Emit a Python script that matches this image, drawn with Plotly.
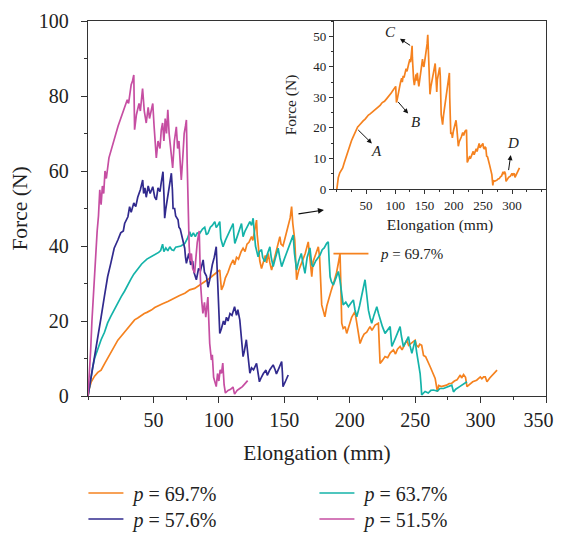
import plotly.graph_objects as go

FONT = "Liberation Serif"

# ---------------- data ----------------
orange_x = [0, 1, 2.5, 5, 7.5, 10, 12.5, 15, 17.5, 20, 22.8, 25, 27.5, 30, 32.5, 35.6, 38, 40, 43, 45, 48.4, 51, 54, 57, 61, 64, 67, 70, 74, 77.7, 81.5, 85, 88, 90, 93, 95, 97, 99, 100.7, 101.3, 102, 103.5, 105, 107, 109, 110.9, 112, 113.5, 115, 117, 118.5, 120, 121.5, 123, 125, 126, 127.5, 128.8, 129.3, 130, 131.3, 132.6, 134, 135.5, 136.5, 137.7, 139, 140.3, 142, 143.5, 145, 146.6, 147.5, 149, 150.5, 152, 153, 154.5, 155.6, 156.5, 158, 158.7, 159.4, 161, 163, 164.5, 166, 168.3, 169.5, 171, 172, 174, 176, 177, 177.8, 178.6, 180, 181, 182.5, 184, 186, 188, 190, 191.3, 192.6, 193.2, 193.9, 195, 196.5, 197.7, 199.5, 201.5, 204, 205.3, 206.6, 207.9, 209.5, 211, 213, 215.5, 217, 219.4, 221.9, 222.5, 223.2, 225, 227, 229, 231, 233.4, 235, 236.5, 238.5, 240, 241.5, 243.6, 245, 246.5, 248, 250, 251, 252.5, 253.5, 255, 256.4, 258, 261.5, 265.3, 267, 268, 270, 272, 274, 276, 278, 280, 282, 284.5, 285.5, 287, 288.5, 289.6, 291, 294, 297, 299.8, 301, 302.3, 303.6, 304.9, 307, 310, 312.6]
orange_y = [0, 2, 3.8, 5.3, 6.3, 6.9, 8.5, 10, 11.6, 13.2, 14.9, 15.8, 16.9, 18, 19.2, 20.3, 20.8, 21.3, 22, 22.3, 22.9, 23.6, 24.2, 24.6, 25.2, 25.8, 26.2, 26.8, 27.4, 28.3, 28.7, 29.5, 30.1, 30.6, 31.4, 32, 32.6, 33, 33.6, 31, 28.3, 29.5, 31.5, 33, 35, 36.3, 35, 37, 36.5, 38.5, 39.4, 38.5, 40.5, 41, 42.5, 41.5, 44, 46.9, 43, 39.8, 36, 34, 36, 37.5, 35.5, 38, 35.5, 33.6, 36, 38, 40, 42.5, 40.5, 40, 42, 44, 45.2, 47.5, 50.5, 46, 41.6, 36, 31, 33.5, 35.4, 37, 38, 41.1, 37, 31.8, 35.8, 38, 39.8, 37, 30, 24.3, 22.5, 21.1, 24, 26, 28.3, 30.5, 33, 35.4, 38, 30, 19.4, 18, 18.5, 16.7, 19, 21, 22.5, 20, 17.6, 14, 15.5, 16.5, 17, 18.5, 17.5, 18.9, 19.4, 14, 8.7, 9.5, 10.5, 10.2, 11.5, 12.3, 11.2, 12.5, 13.2, 12.3, 13.5, 14.9, 13.5, 14, 14.5, 14.9, 13.5, 13.1, 13.8, 13.5, 10.8, 10.5, 7.8, 4.7, 1.2, 2.8, 2.5, 2.6, 2.9, 3.3, 3.4, 4, 4.3, 5.6, 4.8, 5.7, 5, 2.5, 3, 3.8, 4.2, 5.1, 4.6, 5.1, 5.1, 3.8, 4.8, 5.8, 6.9]

teal_x = [0, 1, 2, 3.5, 5, 7.5, 10, 12.6, 15, 17.5, 20, 22.5, 25.4, 28, 30, 33, 35, 38, 41, 45, 48.4, 50, 52, 54, 55.5, 57, 58, 59.5, 61, 62.5, 64, 65.5, 67, 69, 71, 74, 76, 77.7, 79, 80.5, 82, 83.5, 85.4, 87.5, 89.2, 90.5, 91.7, 93.5, 95, 96.9, 98, 99.5, 100.7, 101.5, 103.2, 105, 107, 109, 110.9, 111.5, 112.2, 114, 115.5, 117.3, 118, 118.5, 120, 122, 123.7, 125, 126.2, 127, 128, 130, 131, 132.6, 133.5, 135, 137, 139, 140, 141.5, 143, 145.3, 146.5, 148, 150, 152, 154.3, 156.8, 157.8, 159.4, 161, 163, 164.5, 165.8, 167.5, 169.6, 171, 172, 174, 176, 177.3, 179, 180.5, 182.4, 183.6, 184.3, 185, 186, 187.5, 189.5, 191.3, 192.5, 193.6, 195, 197, 199, 201, 202.8, 204, 205.4, 207.5, 209.5, 211.7, 213, 214.3, 215.5, 216.8, 218.5, 220.7, 222, 223.2, 225, 227, 229, 230.9, 231.5, 232.2, 235, 238.5, 239.5, 241, 243, 244.9, 246, 247.5, 249, 250, 251, 252.5, 253.8, 254.5, 255, 257.6, 260, 262, 264, 267, 269, 271.7, 274, 276, 278, 279.3, 281, 284, 287, 289.6]
teal_y = [0, 2.5, 5, 7.5, 10, 12.8, 15, 17, 19.5, 21.3, 23, 24.8, 26.5, 28, 29.5, 31.3, 32.5, 34, 35.2, 36.5, 37.1, 37.5, 37.8, 38.3, 38.8, 40.5, 38.5, 39.5, 38.7, 39.8, 39, 38.8, 39.7, 39.8, 40, 40.7, 42, 43.8, 42.5, 43.5, 42.5, 43.5, 43.4, 44.5, 45, 43, 43.4, 45, 45.5, 46.5, 44.9, 45.7, 46.5, 42, 39.8, 41.5, 43, 44.5, 46, 43, 40.7, 42.5, 44, 46, 44, 42.5, 44, 45.5, 46.5, 45.5, 47.4, 44, 40, 37.1, 38.5, 39, 37, 35.8, 38, 39.8, 37, 34.5, 36.5, 39.4, 37, 34.5, 36.5, 38.5, 40.7, 42.9, 38, 33.6, 36, 38, 35, 32.7, 37, 39.5, 35, 34.5, 36, 37.1, 37.6, 39, 39.5, 40.7, 41.1, 36, 31.8, 30.5, 29.6, 31.5, 33.2, 31, 28.3, 24.3, 25, 23.8, 24.8, 25.6, 23, 21.1, 24, 27.5, 31, 27, 22.9, 21, 19.4, 21.5, 23.8, 22, 20.3, 18.5, 16.7, 17.6, 18.5, 16, 13.2, 15.5, 18.5, 16, 13.2, 14.5, 15.8, 13.5, 11.4, 13.5, 14.9, 12, 8.7, 6, 3, 0.3, 1.2, 0.8, 1.5, 1.6, 1.3, 2, 2, 2.3, 2.6, 2.9, 1.1, 1.8, 2.5, 3.2, 3.8]

navy_x = [0, 1, 2.5, 5, 7.5, 10, 12.5, 15, 17.5, 20, 22.8, 25, 27, 28, 30.5, 31.8, 33, 35, 36.5, 38, 40, 41.8, 42.5, 43.5, 44.5, 46, 47.5, 49.5, 51, 52.2, 53.5, 55, 56, 57.3, 58.1, 58.6, 59.5, 61, 62.5, 63.7, 64.5, 65, 66.2, 67, 68.8, 69.5, 70.5, 71.3, 72.5, 73.9, 74.5, 75.2, 77, 78.5, 80, 81, 82.8, 84.5, 86, 88, 89, 90.5, 91.7, 93, 95, 96.5, 98, 98.8, 99.4, 100.1, 100.7, 102, 103.5, 104.5, 105.8, 107, 108.5, 110, 112, 113.5, 114.5, 116, 117, 118.5, 119.5, 121, 122.5, 123.7, 125, 126.5, 128.8, 130, 131, 132.5, 134, 136, 137, 139, 141.5, 143, 144, 146, 148, 148.6, 149, 151, 153]
navy_y = [0, 2, 5, 10.5, 16, 21, 26.5, 31.8, 35.5, 39.4, 41.6, 43.5, 44, 46, 47.8, 50.5, 49, 51.5, 50.5, 53, 55, 57.6, 54, 55.5, 53, 56, 54, 55.8, 53, 52.3, 55.5, 54.5, 57, 59.8, 53, 47.4, 50, 53, 56, 59.4, 55, 50, 50, 48, 47, 45, 44.5, 43.4, 41, 39.4, 37, 35.4, 38, 35, 36, 33, 31, 34, 33.5, 36.3, 33, 32, 29, 31, 35, 37, 39.8, 33, 26.5, 20, 16.7, 18, 20, 19, 21, 20, 22, 21.5, 23.8, 21.5, 23, 20.3, 17, 10.5, 12, 15, 10, 6.1, 7.5, 7, 8.7, 6, 3.8, 5, 6, 6.9, 5.5, 7, 8.3, 7, 5.9, 7.5, 9.2, 6, 2.5, 4, 5.6]

magenta_x = [0, 1, 2, 3, 4, 5, 6, 7, 8, 9, 10, 11, 12, 13, 14, 16, 18, 20, 21.6, 23, 25, 28, 30, 31, 33, 34, 35, 35.6, 37, 39, 40, 41.7, 43, 44.5, 46, 47, 48, 49.5, 50.5, 52.2, 53.5, 55, 56, 57, 58, 59, 60, 61, 62, 63, 64.7, 66, 67.5, 68.5, 69.5, 70.5, 71.3, 72.5, 73.5, 74.5, 75.2, 75.8, 76.5, 77.3, 78, 79, 80, 81.5, 82.5, 83.5, 85, 85.5, 86, 87, 87.8, 89, 90, 91.6, 92.2, 93, 94.3, 95, 96, 98, 99, 100, 101, 102, 103, 104, 105, 107, 109, 110.8, 112, 114, 116, 118, 120, 122]
magenta_y = [0, 5, 12, 20, 27, 32, 38, 44, 48, 55, 51, 56, 54, 60, 58, 63.5, 66, 68, 70.5, 72, 74, 77, 79, 78, 83, 84, 85.6, 71, 75, 78, 76, 82, 76, 72.8, 77, 74, 76, 78, 72, 63.5, 68, 66, 71, 72.8, 68, 74, 70, 76.3, 70, 66, 60.8, 68, 71.8, 66, 68, 62, 57.6, 64, 70, 72, 73.6, 62, 50, 40, 36, 38, 34, 32.8, 37, 41, 44, 38, 30, 25, 22, 25, 21, 26.4, 20, 14, 9.6, 11, 5, 2.5, 6, 4, 7, 6, 8.8, 3, 0.8, 1.5, 1.8, 2.4, 0.5, 1.5, 2, 2.5, 3.3, 4.1]

series_names = ["<i>p</i> = 69.7%", "<i>p</i> = 63.7%", "<i>p</i> = 57.6%", "<i>p</i> = 51.5%"]
series_colors = ["#f5821f", "#14b3a9", "#312a8e", "#c64ea2"]
series_legend = ["legend", "legend", "legend3", "legend3"]   # two legend rows

x_ticks = [50, 100, 150, 200, 250, 300, 350]
x_tick_labels = ["50", "100", "150", "200", "250", "300", "350"]
y_ticks = [0, 20, 40, 60, 80, 100]
inset_x_ticks = [50, 100, 150, 200, 250, 300]
inset_y_ticks = [0, 10, 20, 30, 40, 50]

# inset point labels: (label, label x, label y, arrow head x, head y, tail x, tail y)
point_labels = [
    ("A", 68, 12.4, 60, 14.9, 34, 19.8),
    ("B", 134, 21.8, 122, 24.7, 102.6, 29),
    ("C", 91, 51.4, 108, 49.2, 128, 46.7),
    ("D", 302, 14.9, 297.6, 11.1, 293.6, 5.7),
]

# the last x label sits at the page edge: pad it on the right so it stays inside the view
x_tick_text = x_tick_labels[:-1] + [x_tick_labels[-1] + "&nbsp;&nbsp;&nbsp;"]

# ---------------- figure ----------------
fig = go.Figure()
data = [(orange_x, orange_y), (teal_x, teal_y), (navy_x, navy_y), (magenta_x, magenta_y)]
for (xs, ys), name, col, lg in zip(data, series_names, series_colors, series_legend):
    fig.add_trace(go.Scatter(x=xs, y=ys, mode="lines", name="&nbsp;" + name,
                             line=dict(color=col, width=1.7), xaxis="x", yaxis="y", legend=lg))

# inset (same orange series)
fig.add_trace(go.Scatter(x=orange_x, y=orange_y, mode="lines", name="&nbsp;&nbsp;" + series_names[0],
                         line=dict(color=series_colors[0], width=1.7),
                         xaxis="x2", yaxis="y2", legend="legend2"))

axis_common = dict(showline=True, linecolor="#333", linewidth=1.3, mirror=True,
                   ticks="outside", tickcolor="#333", showgrid=False, zeroline=False,
                   automargin=False, ticklabeloverflow="allow")

legend_row = dict(orientation="h", x=-0.01, xanchor="left", yanchor="middle",
                  entrywidth=181, entrywidthmode="pixels", itemwidth=35,
                  font=dict(size=20, family=FONT), bgcolor="rgba(0,0,0,0)")

# page body adds an 8px offset, so the figure is sized to keep the plot box in place
fig.update_layout(
    width=555, height=525,
    margin=dict(l=80, r=17, t=13, b=137, autoexpand=False),
    paper_bgcolor="white", plot_bgcolor="white",
    font=dict(family=FONT, color="#222"),
    xaxis=dict(**axis_common, range=[0, 350], tickvals=x_ticks, ticktext=x_tick_text,
               ticklen=6, tickwidth=1.3,
               tickfont=dict(size=20, family=FONT),
               minor=dict(dtick=25, tick0=0, ticklen=3, ticks="outside", tickcolor="#333"),
               title=dict(text="Elongation (mm)", font=dict(size=21.5, family=FONT), standoff=14)),
    yaxis=dict(**axis_common, range=[0, 100], tickvals=y_ticks, ticklen=6, tickwidth=1.3,
               tickfont=dict(size=20, family=FONT), ticklabelstandoff=8,
               minor=dict(dtick=10, tick0=0, ticklen=3, ticks="outside", tickcolor="#333"),
               title=dict(text="Force (N)", font=dict(size=21.5, family=FONT), standoff=5)),
    xaxis2=dict(**axis_common, domain=[0.537, 1.0], anchor="y2", range=[-5, 358],
                tickvals=inset_x_ticks, ticklen=4, tickwidth=1,
                tickfont=dict(size=13, family=FONT),
                minor=dict(dtick=25, tick0=0, ticklen=2, ticks="outside", tickcolor="#333"),
                title=dict(text="Elongation (mm)", font=dict(size=15.5, family=FONT), standoff=7)),
    yaxis2=dict(**axis_common, domain=[0.552, 1.0], anchor="x2", range=[0, 55],
                tickvals=inset_y_ticks, ticklen=4, tickwidth=1,
                tickfont=dict(size=13, family=FONT),
                minor=dict(dtick=5, tick0=0, ticklen=2, ticks="outside", tickcolor="#333"),
                title=dict(text="Force (N)", font=dict(size=15.5, family=FONT), standoff=12)),
    legend=dict(**legend_row, y=-0.2587),
    legend3=dict(**legend_row, y=-0.328),
    legend2=dict(x=0.525, xanchor="left", y=0.379, yanchor="middle", itemwidth=35,
                 font=dict(size=15, family=FONT), bgcolor="rgba(0,0,0,0)"),
)

annotations = []
for lab, lx, ly, hx, hy, tx, ty in point_labels:
    annotations.append(dict(x=hx, y=hy, ax=tx, ay=ty, xref="x2", yref="y2", axref="x2", ayref="y2",
                            text="", showarrow=True, arrowhead=2, arrowsize=1, arrowwidth=1,
                            arrowcolor="#111"))
    annotations.append(dict(x=lx, y=ly, xref="x2", yref="y2", text="<i>%s</i>" % lab,
                            showarrow=False, font=dict(size=15, family=FONT, color="#222")))
# arrow from the main plot towards the inset
annotations.append(dict(x=180.3, y=49.6, ax=159.7, ay=48.5, xref="x", yref="y", axref="x", ayref="y",
                        text="", showarrow=True, arrowhead=2, arrowsize=1, arrowwidth=1.2,
                        arrowcolor="#111"))
fig.update_layout(annotations=annotations)

fig.write_html("out.html")
